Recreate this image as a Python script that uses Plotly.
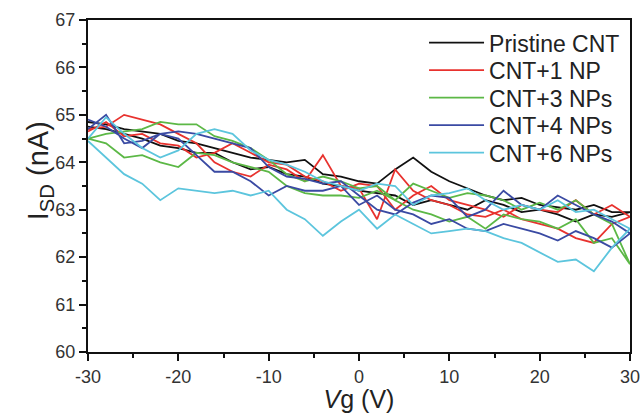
import plotly.graph_objects as go

vg_fwd = list(range(-30, 31, 2))
vg_bwd = list(range(28, -31, -2))
vg = vg_fwd + vg_bwd

pristine = [64.85, 64.8, 64.7, 64.65, 64.6, 64.45, 64.4, 64.3, 64.2, 64.1, 64.05, 64.0, 64.05, 63.75, 63.7, 63.6,
            63.55, 63.85, 64.1, 63.8, 63.6, 63.45, 63.3, 63.2, 63.25, 63.1, 63.05, 63.0, 63.1, 62.95, 62.95,
            62.85, 62.9, 62.75, 62.9, 63.0, 62.95, 63.1, 63.2, 63.0, 63.1, 63.2, 63.1, 63.3, 63.35, 63.4,
            63.5, 63.55, 63.7, 63.75, 63.9, 63.85, 64.0, 64.2, 64.2, 64.3, 64.35, 64.5, 64.6, 64.7, 64.75]
np1 = [64.7, 64.75, 65.0, 64.9, 64.8, 64.6, 64.4, 64.0, 63.8, 63.7, 63.95, 63.85, 63.6, 64.15, 63.5, 63.45,
       62.8, 63.85, 63.4, 63.2, 63.1, 62.9, 62.85, 63.0, 62.8, 62.7, 62.6, 62.4, 62.3, 62.7, 62.85,
       63.1, 62.9, 63.2, 62.95, 63.0, 63.1, 62.85, 63.0, 63.1, 63.2, 63.5, 63.3, 63.0, 63.5, 63.55,
       63.4, 63.6, 63.7, 63.95, 64.0, 64.2, 64.4, 64.2, 64.1, 64.35, 64.4, 64.6, 64.55, 64.85, 64.65]
np3 = [64.5, 64.4, 64.1, 64.15, 64.0, 63.9, 64.2, 64.15, 64.0, 63.9, 63.8, 63.5, 63.35, 63.3, 63.3, 63.25,
       63.4, 63.2, 63.0, 62.9, 62.75, 62.85, 62.6, 62.9, 62.8, 62.75, 62.6, 62.8, 62.3, 62.4, 61.85,
       62.7, 62.9, 63.2, 63.0, 63.15, 63.0, 63.2, 63.3, 63.35, 63.25, 63.4, 63.55, 63.2, 63.5, 63.45,
       63.6, 63.7, 63.6, 63.75, 64.05, 64.3, 64.45, 64.55, 64.8, 64.8, 64.85, 64.7, 64.65, 64.6, 64.5]
np4 = [64.7, 65.0, 64.4, 64.45, 64.6, 64.5, 64.15, 63.8, 63.8, 63.6, 63.3, 63.5, 63.4, 63.4, 63.5, 63.1,
       63.3, 63.0, 62.9, 62.7, 62.8, 62.6, 62.55, 62.7, 62.6, 62.5, 62.35, 62.55, 62.4, 62.2, 62.5,
       62.75, 62.9, 63.1, 63.3, 63.0, 63.1, 63.4, 63.0, 62.85, 63.25, 63.3, 63.15, 62.9, 63.0, 63.3,
       63.6, 63.55, 63.65, 63.7, 63.9, 64.3, 64.4, 64.5, 64.6, 64.65, 64.6, 64.3, 64.5, 64.75, 64.9]
np6 = [64.45, 64.1, 63.75, 63.55, 63.2, 63.45, 63.4, 63.35, 63.4, 63.3, 63.4, 63.0, 62.8, 62.45, 62.75, 63.0,
       62.6, 62.9, 62.7, 62.5, 62.55, 62.6, 62.55, 62.4, 62.3, 62.1, 61.9, 61.95, 61.7, 62.2, 62.6,
       62.8, 63.0, 62.95, 63.2, 63.0, 63.1, 63.0, 63.2, 63.45, 63.35, 63.3, 63.1, 63.5, 63.55, 63.4,
       63.5, 63.6, 63.8, 63.95, 64.05, 64.25, 64.6, 64.7, 64.6, 64.25, 64.1, 64.3, 64.6, 64.95, 64.5]

names = ["Pristine CNT", "CNT+1 NP", "CNT+3 NPs", "CNT+4 NPs", "CNT+6 NPs"]
colors = ["#111111", "#e8322e", "#5cb846", "#3a4aa3", "#5cc5dd"]
series = [pristine, np1, np3, np4, np6]

x_ticks = [-30, -20, -10, 0, 10, 20, 30]
x_ticktext = ["-30", "-20", "-10", "0", "10", "20", "30"]
y_ticks = [60, 61, 62, 63, 64, 65, 66, 67]

font_family = "Liberation Sans, Arial, sans-serif"

fig = go.Figure()
legend_ids = ["legend", "legend2", "legend3", "legend4", "legend5"]
for nm, col, ys, lid in zip(names, colors, series, legend_ids):
    fig.add_trace(go.Scatter(x=vg, y=ys, mode="lines", name=nm, legend=lid, showlegend=True,
                             line=dict(color=col, width=1.8)))

# one legend box per entry so row spacing matches the reference
row_px = [42.7, 70.2, 97.7, 125.2, 152.7]
plot_top, plot_bottom = 20, 352
legend_layouts = {}
for lid, py in zip(legend_ids, row_px):
    legend_layouts[lid] = dict(
        x=0.62, y=(plot_bottom - py) / (plot_bottom - plot_top),
        xanchor="left", yanchor="middle", bgcolor="rgba(0,0,0,0)",
        font=dict(family=font_family, size=23, color="#222"),
        itemwidth=55, borderwidth=0)

axis_common = dict(showline=True, linecolor="#111", linewidth=2, mirror=True,
                   ticks="outside", ticklen=7, tickwidth=1.5, tickcolor="#111",
                   showgrid=False, zeroline=False, automargin=False,
                   tickfont=dict(family=font_family, size=18, color="#333"))

title_center_px = 171
fig.update_layout(
    width=641, height=413,
    margin=dict(l=88, r=11, t=20, b=61),
    paper_bgcolor="white", plot_bgcolor="white",
    font=dict(family=font_family, color="#222"),
    showlegend=True,
    xaxis=dict(range=[-30, 30], tickvals=x_ticks, ticktext=x_ticktext,
               minor=dict(ticks="outside", ticklen=4, tickwidth=1.5, tickcolor="#111", dtick=5),
               title=dict(text="<i>V</i>g (V)", font=dict(family=font_family, size=25, color="#222"), standoff=3),
               **axis_common),
    yaxis=dict(range=[60, 67], tickvals=y_ticks,
               minor=dict(ticks="outside", ticklen=4, tickwidth=1.5, tickcolor="#111", dtick=0.5),
               **axis_common),
    annotations=[dict(text="I<sub>SD</sub> (nA)", textangle=-90, showarrow=False,
                      xref="paper", yref="paper", x=-0.088, xanchor="center",
                      y=(plot_bottom - title_center_px) / (plot_bottom - plot_top), yanchor="middle",
                      font=dict(family=font_family, size=29, color="#222"))],
    **legend_layouts,
)

fig.write_html("out.html", post_script="document.body.style.margin='0';",
               config={"displayModeBar": False})
